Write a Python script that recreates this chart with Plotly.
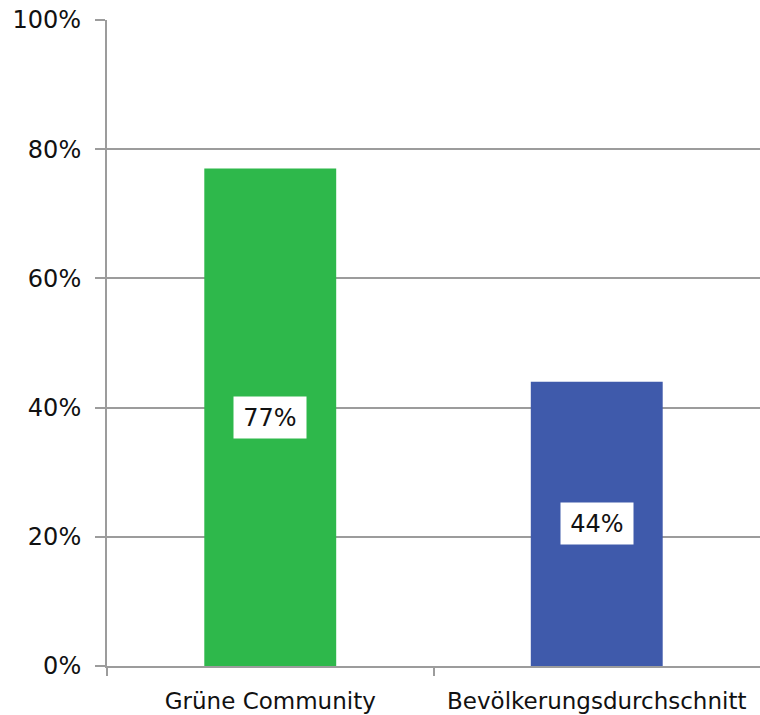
import plotly.graph_objects as go

categories = ["Grüne Community", "Bevölkerungsdurchschnitt"]
values = [77, 44]
colors = ["#2eb84b", "#3f5aab"]
y_ticks = [0, 20, 40, 60, 80, 100]

positions = list(range(len(categories)))
boundaries = [p - 0.5 for p in positions]

fig = go.Figure()
fig.add_trace(go.Bar(
    x=positions, y=values, marker=dict(color=colors, line=dict(width=0)),
    width=0.404, hoverinfo="skip",
))

for p, v in zip(positions, values):
    fig.add_annotation(
        x=p, y=v / 2, xref="x", yref="y", text=f"{v}%", showarrow=False,
        bgcolor="white", borderpad=0, width=72, height=41,
        font=dict(family="DejaVu Sans", size=24, color="#111111"),
    )

grid = "#9c9c9c"
fig.update_layout(
    width=760, height=715,
    margin=dict(l=107, r=0, t=20, b=49),
    paper_bgcolor="white", plot_bgcolor="white",
    showlegend=False,
    font=dict(family="DejaVu Sans", size=22, color="#111111"),
    xaxis=dict(
        range=[-0.5, 1.5], tickvals=positions, ticktext=categories, ticks="",
        minor=dict(tickvals=boundaries, ticks="outside", ticklen=8, tickwidth=1.5,
                   tickcolor=grid, showgrid=False),
        showline=True, linecolor=grid, linewidth=2, automargin=False,
        showgrid=False, zeroline=False, tickfont=dict(size=23), ticklabelstandoff=13,
    ),
    yaxis=dict(
        range=[0, 100], tickvals=y_ticks, ticktext=[f"{t}%" for t in y_ticks],
        ticks="outside", ticklen=10, tickwidth=2, tickcolor=grid,
        showline=True, linecolor=grid, linewidth=2, automargin=False,
        showgrid=True, gridcolor=grid, gridwidth=2,
        zeroline=False, tickfont=dict(size=24), ticklabelstandoff=9,
    ),
)

fig.write_html("out.html")
